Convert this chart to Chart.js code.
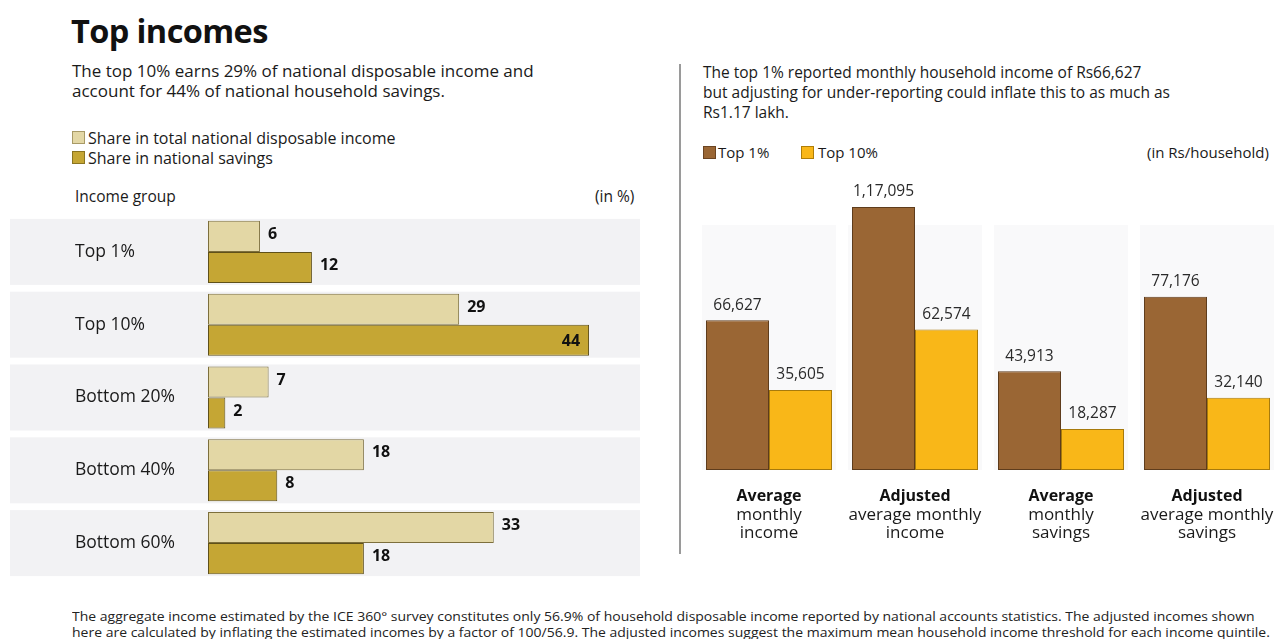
<!DOCTYPE html>
<html>
<head>
<meta charset="utf-8">
<script src="https://cdn.jsdelivr.net/npm/chart.js@4/dist/chart.umd.min.js"></script>
<style>
  html, body { margin: 0; padding: 0; background: #ffffff; }
  body { width: 1282px; height: 639px; position: relative; overflow: hidden; font-family: "Open Sans", "Noto Sans", sans-serif; color: #1a1a1a; }
  .t { position: absolute; white-space: nowrap; }
  #title { left: 71px; top: 8px; font-size: 32.5px; font-weight: 700; letter-spacing: -0.6px; color: #111; }
  .sub { font-size: 15.5px; line-height: 20px; color: #1a1a1a; }
  .leg { font-size: 15px; color: #1a1a1a; }
  .sq { position: absolute; width: 13px; height: 13px; box-sizing: border-box; }
  #sep { position: absolute; left: 679px; top: 64px; width: 2px; height: 490px; background: #9a9a9a; }
  #foot { left: 72px; top: 609px; font-size: 12.5px; line-height: 16px; color: #222; transform-origin: 0 0; }
  canvas { position: absolute; }
</style>
</head>
<body>
<div id="title" class="t">Top incomes</div>
<div class="t sub" style="left:72px;top:61px;font-size:17px;">The top 10% earns 29% of national disposable income and<br>account for 44% of national household savings.</div>

<div class="sq" style="left:72px;top:131px;background:#e3d7a5;border:1px solid #a89a66;"></div>
<div class="t leg" style="left:88px;top:127px;font-size:16px;">Share in total national disposable income</div>
<div class="sq" style="left:72px;top:151px;background:#c5a634;border:1px solid #8a7420;"></div>
<div class="t leg" style="left:88px;top:147px;font-size:16px;">Share in national savings</div>
<div class="t leg" style="left:75px;top:185px;font-size:15.5px;">Income group</div>
<div class="t leg" style="left:595px;top:185px;font-size:15.5px;">(in %)</div>

<div id="sep"></div>

<div class="t sub" style="left:703px;top:62px;">The top 1% reported monthly household income of Rs66,627<br>but adjusting for under-reporting could inflate this to as much as<br>Rs1.17 lakh.</div>
<div class="sq" style="left:703px;top:146px;background:#9a6634;border:1px solid #6b4422;"></div>
<div class="t leg" style="left:718px;top:142px;">Top 1%</div>
<div class="sq" style="left:801px;top:146px;background:#f9b718;border:1px solid #b07e08;"></div>
<div class="t leg" style="left:818px;top:142px;">Top 10%</div>
<div class="t leg" style="left:1147px;top:142px;">(in Rs/household)</div>

<div id="foot" class="t">The aggregate income estimated by the ICE 360° survey constitutes only 56.9% of household disposable income reported by national accounts statistics. The adjusted incomes shown<br>here are calculated by inflating the estimated incomes by a factor of 100/56.9. The adjusted incomes suggest the maximum mean household income threshold for each income quintile.</div>

<canvas id="left" width="645" height="385" style="left:0px;top:205px;width:645px;height:385px;"></canvas>
<canvas id="right" width="602" height="400" style="left:680px;top:170px;width:602px;height:400px;"></canvas>

<script>
// ---------- DATA ----------
const groups = ["Top 1%", "Top 10%", "Bottom 20%", "Bottom 40%", "Bottom 60%"];
const shareIncome = [6, 29, 7, 18, 33];
const shareSavings = [12, 44, 2, 8, 18];

const measuresBold = ["Average", "Adjusted", "Average", "Adjusted"];
const measuresRest = [["monthly", "income"], ["average monthly", "income"], ["monthly", "savings"], ["average monthly", "savings"]];
const top1 = [66627, 117095, 43913, 77176];
const top10 = [35605, 62574, 18287, 32140];

// ---------- helpers ----------
function inFmt(n) {
  const s = String(Math.round(n));
  if (s.length <= 3) return s;
  const last3 = s.slice(-3);
  let rest = s.slice(0, -3);
  const parts = [];
  while (rest.length > 2) { parts.unshift(rest.slice(-2)); rest = rest.slice(0, -2); }
  if (rest.length) parts.unshift(rest);
  return parts.join(",") + "," + last3;
}

const FONT = '"Open Sans", "Noto Sans", sans-serif';

// fit footnote width
(function(){
  const f = document.getElementById('foot');
  const w = f.scrollWidth;
  const target = 1198;
  f.style.transform = 'scaleX(' + (target / w) + ')';
})();

// ---------- left chart ----------
const leftBands = {
  id: 'leftBands',
  beforeDraw(chart) {
    const ctx = chart.ctx;
    const y = chart.scales.y;
    ctx.save();
    ctx.fillStyle = '#f2f2f4';
    groups.forEach((g, i) => {
      const c = y.getPixelForValue(i);
      ctx.fillRect(10, c - 33, 630, 66);
    });
    ctx.restore();
  },
  afterDatasetsDraw(chart) {
    const ctx = chart.ctx;
    ctx.save();
    ctx.font = 'bold 16px ' + FONT;
    ctx.fillStyle = '#111';
    ctx.textBaseline = 'middle';
    chart.data.datasets.forEach((ds, di) => {
      const meta = chart.getDatasetMeta(di);
      meta.data.forEach((bar, i) => {
        const v = ds.data[i];
        if (v >= 40) {
          ctx.textAlign = 'right';
          ctx.fillText(String(v), bar.x - 9, bar.y + 1);
        } else {
          ctx.textAlign = 'left';
          ctx.fillText(String(v), bar.x + 8, bar.y - 2);
        }
      });
    });
    ctx.restore();
  }
};

new Chart(document.getElementById('left'), {
  type: 'bar',
  data: {
    labels: groups,
    datasets: [
      { label: 'Share in total national disposable income', data: shareIncome, backgroundColor: '#e3d7a5', borderColor: '#7d6f3c', borderWidth: 1, borderSkipped: false },
      { label: 'Share in national savings', data: shareSavings, backgroundColor: '#c5a634', borderColor: '#5f5019', borderWidth: 1, borderSkipped: false }
    ]
  },
  options: {
    indexAxis: 'y',
    responsive: false,
    animation: false,
    devicePixelRatio: 1,
    layout: { padding: { left: 75, right: 4, top: 4.5, bottom: 5.5 } },
    datasets: { bar: { categoryPercentage: 64 / 75, barPercentage: 1 } },
    plugins: { legend: { display: false }, tooltip: { enabled: false } },
    scales: {
      x: { display: false, min: 0, max: 50 },
      y: {
        grid: { display: false },
        border: { display: false },
        afterFit(scale) { scale.width = 133; },
        ticks: { crossAlign: 'far', font: { family: FONT, size: 17.5 }, color: '#1a1a1a', padding: 0 }
      }
    }
  },
  plugins: [leftBands]
});

// ---------- right chart ----------
const rightDeco = {
  id: 'rightDeco',
  beforeDraw(chart) {
    const ctx = chart.ctx;
    const x = chart.scales.x;
    const area = chart.chartArea;
    ctx.save();
    ctx.fillStyle = '#f9f9fa';
    measuresBold.forEach((m, i) => {
      const c = x.getPixelForValue(i);
      ctx.fillRect(c - 67, 55, 134, area.bottom - 55);
    });
    ctx.restore();
  },
  afterDatasetsDraw(chart) {
    const ctx = chart.ctx;
    const x = chart.scales.x;
    const area = chart.chartArea;
    ctx.save();
    ctx.font = '15.5px ' + FONT;
    ctx.fillStyle = '#2a2a2a';
    ctx.textAlign = 'center';
    ctx.textBaseline = 'middle';
    chart.data.datasets.forEach((ds, di) => {
      const meta = chart.getDatasetMeta(di);
      meta.data.forEach((bar, i) => {
        ctx.fillText(inFmt(ds.data[i]), bar.x, bar.y - 15);
      });
    });
    measuresBold.forEach((m, i) => {
      const c = x.getPixelForValue(i);
      ctx.font = 'bold 16px ' + FONT;
      ctx.fillStyle = '#111';
      ctx.fillText(m, c, area.bottom + 26);
      ctx.font = '17px ' + FONT;
      ctx.fillStyle = '#1a1a1a';
      measuresRest[i].forEach((line, k) => {
        ctx.fillText(line, c, area.bottom + 45 + k * 18);
      });
    });
    ctx.restore();
  }
};

new Chart(document.getElementById('right'), {
  type: 'bar',
  data: {
    labels: measuresBold,
    datasets: [
      { label: 'Top 1%', data: top1, backgroundColor: '#9a6634', borderColor: '#5e3c1c', borderWidth: 1, borderSkipped: false },
      { label: 'Top 10%', data: top10, backgroundColor: '#f9b718', borderColor: '#a77a0c', borderWidth: 1, borderSkipped: false }
    ]
  },
  options: {
    responsive: false,
    animation: false,
    devicePixelRatio: 1,
    layout: { padding: { left: 16, right: 2, top: 8, bottom: 100 } },
    datasets: { bar: { categoryPercentage: 126 / 146, barPercentage: 1 } },
    plugins: { legend: { display: false }, tooltip: { enabled: false } },
    scales: {
      x: { display: false },
      y: { display: false, min: 0, max: 130000 }
    }
  },
  plugins: [rightDeco]
});
</script>
</body>
</html>
